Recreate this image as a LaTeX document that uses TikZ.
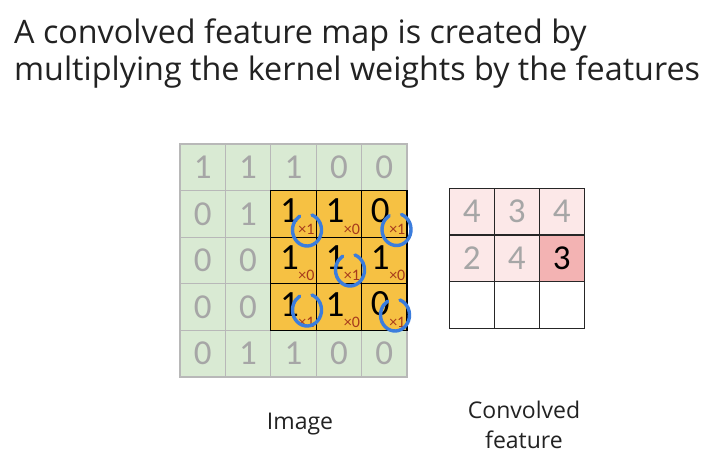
\documentclass[tikz,border=0pt]{standalone}
\usepackage{fontspec}
\setmainfont{Open Sans}
\newfontfamily\digfont{Carlito}
\definecolor{cgreen}{HTML}{D9EAD3}
\definecolor{gridgray}{HTML}{B8B8B8}
\definecolor{digray}{HTML}{A6A6A6}
\definecolor{corange}{HTML}{F6C143}
\definecolor{subred}{HTML}{A63A1C}
\definecolor{pen}{HTML}{3B7DDD}
\definecolor{pinklight}{HTML}{FCE8E8}
\definecolor{pinkdark}{HTML}{F3B3B3}
\definecolor{titlecol}{HTML}{222222}
\begin{document}
\begin{tikzpicture}[x=1pt,y=-1pt,
  gcell/.style={draw=gridgray, line width=1.3pt, fill=cgreen, minimum width=45.4pt, minimum height=46.6pt, inner sep=0pt, text=digray, font=\digfont\fontsize{35}{35}\selectfont},
  ocell/.style={draw=black, line width=1.3pt, fill=corange, minimum width=45.4pt, minimum height=46.6pt, inner sep=0pt},
  odigit/.style={inner sep=0pt, text=black, font=\digfont\fontsize{37}{37}\selectfont},
  wsub/.style={inner sep=0pt, text=subred, font=\digfont\fontsize{16}{16}\selectfont},
  ccell/.style={draw=black!85, line width=1.3pt, minimum width=45pt, minimum height=46.7pt, inner sep=0pt, font=\digfont\fontsize{35}{35}\selectfont},
  bluepen/.style={draw=pen, line width=3.4pt, line cap=round},
  lbl/.style={inner sep=0pt, text=titlecol, font=\fontsize{23}{30}\selectfont},
  ttl/.style={inner sep=0pt, anchor=base west, text=titlecol, font=\fontsize{32.3}{37}\selectfont}]
\useasboundingbox (0,0) rectangle (711,458);
\fill[white] (0,0) rectangle (711,458);
% title
\node[ttl] (title1) at (14,43) {A convolved feature map is created by};
\node[ttl] (title2) at (14,80) {multiplying the kernel weights by the features};
% image grid
\foreach [count=\k] \v in {1,1,1,0,0, 0,1,1,1,0, 0,0,1,1,1, 0,0,1,1,0, 0,1,1,0,0} {
  \pgfmathtruncatemacro\r{(\k-1)/5}
  \pgfmathtruncatemacro\c{mod(\k-1,5)}
  \node[gcell] (g\r\c) at ({180+45.4*\c+22.7},{144+46.6*\r+23.3}) {\v};
}
% kernel window
\foreach \r/\c/\v/\w in {1/2/1/1, 1/3/1/0, 1/4/0/1, 2/2/1/0, 2/3/1/1, 2/4/1/0, 3/2/1/1, 3/3/1/0, 3/4/0/1} {
  \node[ocell] (o\r\c) at (g\r\c) {};
  \node[odigit] (d\r\c) at ([xshift=-4pt,yshift=3pt]o\r\c.center) {\v};
  \node[wsub] (s\r\c) at ([xshift=13pt,yshift=-15pt]o\r\c.center) {\texttimes\w};
}
% pen circles
\coordinate (p1) at (307,230);
\coordinate (p2) at (396.5,229.5);
\coordinate (p3) at (350,270);
\coordinate (p4) at (307,310);
\coordinate (p5) at (395,315);
\foreach \p in {p1,p2,p3,p4,p5}
  \draw[bluepen] (\p) ++(-70:{14.5} and {16}) arc[start angle=-70, end angle=240, x radius=14.5, y radius=16];
% convolved feature
\foreach \r/\c/\v/\f/\t in {0/0/4/pinklight/digray, 0/1/3/pinklight/digray, 0/2/4/pinklight/digray,
  1/0/2/pinklight/digray, 1/1/4/pinklight/digray, 1/2/3/pinkdark/black,
  2/0//white/black, 2/1//white/black, 2/2//white/black} {
  \node[ccell, fill=\f, text=\t] (c\r\c) at ({449.3+45*\c+22.5},{188.3+46.7*\r+23.35}) {\v};
}
% labels
\node[lbl] (lblimage) at (300,424) {Image};
\node[lbl, align=center] (lblconv) at (524,425) {Convolved\\feature};
\end{tikzpicture}
\end{document}
